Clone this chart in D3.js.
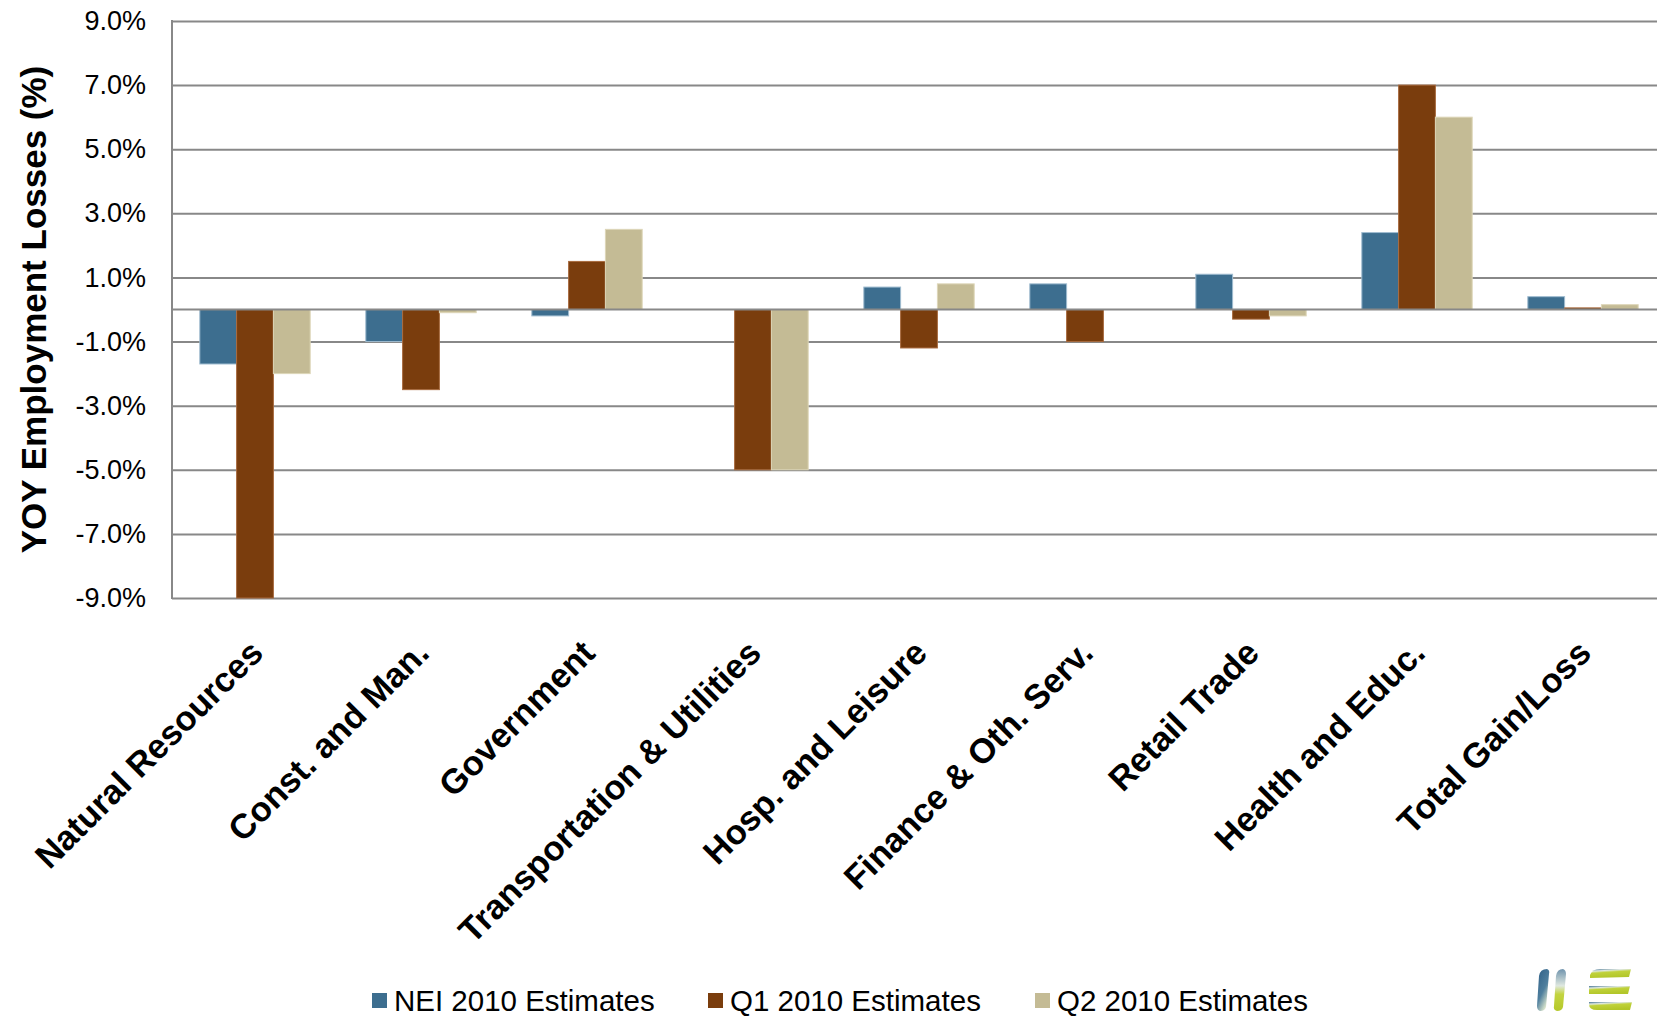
<!DOCTYPE html>
<html>
<head>
<meta charset="utf-8">
<script src="https://cdn.jsdelivr.net/npm/d3@7"></script>
<style>
  html, body { margin: 0; padding: 0; background: #fff; }
  svg { display: block; font-family: "Liberation Sans", Arial, sans-serif; }
</style>
</head>
<body>
<svg id="chart" width="1657" height="1016"></svg>
<script>
// Year-over-year employment change by sector, three estimate vintages
const categories = [
  "Natural Resources", "Const. and Man.", "Government", "Transportation & Utilities",
  "Hosp. and Leisure", "Finance & Oth. Serv.", "Retail Trade", "Health and Educ.", "Total Gain/Loss"
];
const seriesNames = ["NEI 2010 Estimates", "Q1 2010 Estimates", "Q2 2010 Estimates"];
const neiValues = [-1.7, -1.0, -0.2, 0.0, 0.7, 0.8, 1.1, 2.4, 0.4];
const q1Values  = [-9.0, -2.5, 1.5, -5.0, -1.2, -1.0, -0.3, 7.0, 0.05];
const q2Values  = [-2.0, -0.1, 2.5, -5.0, 0.8, 0.0, -0.2, 6.0, 0.15];
const yTicks = [9, 7, 5, 3, 1, -1, -3, -5, -7, -9];
const seriesColors = ["#3d6e8f", "#7a3d0d", "#c4bb95"];
const seriesEdges  = ["#9fbcd0", "#a86a3e", "#ddd6b8"];

const seriesValues = [neiValues, q1Values, q2Values];

const svg = d3.select("#chart");
const plot = { left: 172, right: 1666, top: 21, bottom: 598 };

const x0 = d3.scaleBand().domain(categories).range([plot.left, plot.right]).padding(0);
const groupWidth = x0.bandwidth() * 0.665;
const x1 = d3.scaleBand().domain(seriesNames).range([0, groupWidth]).padding(0);
const y = d3.scaleLinear().domain([-9, 9]).range([plot.bottom, plot.top]);

// Percent labels with an ASCII hyphen for negatives
const pct = d3.formatLocale({ decimal: ".", thousands: ",", grouping: [3], currency: ["", ""], minus: "-" })
  .format(".1f");

// Horizontal gridlines with percentage labels
const yAxis = d3.axisLeft(y)
  .tickValues(yTicks)
  .tickSize(-(plot.right - plot.left))
  .tickFormat(d => pct(d) + "%")
  .tickPadding(26);

const gy = svg.append("g")
  .attr("transform", `translate(${plot.left},0)`)
  .call(yAxis);
gy.select(".domain").remove();
gy.selectAll(".tick line").attr("stroke", "#888888").attr("stroke-width", 2);
gy.selectAll(".tick text")
  .attr("fill", "#000")
  .style("font-size", "27px")
  .style("font-family", "'Liberation Sans', Arial, sans-serif");

// Bars
const groups = svg.append("g")
  .selectAll("g")
  .data(categories)
  .join("g")
  .attr("transform", d => `translate(${x0(d) + (x0.bandwidth() - groupWidth) / 2},0)`);

groups.selectAll("rect")
  .data((d, i) => seriesNames.map((s, k) => ({ s, k, v: seriesValues[k][i] })))
  .join("rect")
  .attr("x", d => x1(d.s))
  .attr("width", x1.bandwidth())
  .attr("y", d => y(Math.max(0, d.v)))
  .attr("height", d => Math.abs(y(d.v) - y(0)))
  .attr("fill", d => seriesColors[d.k])
  .attr("stroke", d => d.v === 0 ? "none" : seriesEdges[d.k])
  .attr("stroke-width", 1);

// Zero baseline and vertical value axis
svg.append("line")
  .attr("x1", plot.left).attr("x2", plot.right)
  .attr("y1", y(0)).attr("y2", y(0))
  .attr("stroke", "#888888").attr("stroke-width", 2);
svg.append("line")
  .attr("x1", plot.left).attr("x2", plot.left)
  .attr("y1", plot.top - 1).attr("y2", plot.bottom + 1)
  .attr("stroke", "#888888").attr("stroke-width", 2);

// Rotated category labels
svg.append("g")
  .selectAll("text")
  .data(categories)
  .join("text")
  .attr("transform", d => `translate(${x0(d) + x0.bandwidth() / 2 + 10},655) rotate(-45)`)
  .attr("text-anchor", "end")
  .style("font-size", "34.5px")
  .style("font-weight", "bold")
  .style("letter-spacing", "0px")
  .attr("fill", "#000")
  .text(d => d);

// Value axis title
svg.append("text")
  .attr("transform", `translate(46,${y(0)}) rotate(-90)`)
  .attr("text-anchor", "middle")
  .style("font-size", "35px")
  .style("font-weight", "bold")
  .attr("fill", "#000")
  .text("YOY Employment Losses (%)");

// Legend
const legendX = [372, 708, 1035];
const legend = svg.append("g")
  .selectAll("g")
  .data(seriesNames)
  .join("g")
  .attr("transform", (d, i) => `translate(${legendX[i]},0)`);
legend.append("rect")
  .attr("x", 0).attr("y", 993)
  .attr("width", 15).attr("height", 15)
  .attr("fill", (d, i) => seriesColors[i]);
legend.append("text")
  .attr("x", 22).attr("y", 1011)
  .style("font-size", "29.5px")
  .attr("fill", "#000")
  .text(d => d);

// Corner logo mark
const defs = svg.append("defs");
const gradA = defs.append("linearGradient")
  .attr("id", "logoGradA")
  .attr("x1", "0").attr("y1", "0").attr("x2", "0.6").attr("y2", "1");
gradA.append("stop").attr("offset", "0%").attr("stop-color", "#2f5f86");
gradA.append("stop").attr("offset", "60%").attr("stop-color", "#4f7f9e");
gradA.append("stop").attr("offset", "100%").attr("stop-color", "#e4ecd0");
const gradB = defs.append("linearGradient")
  .attr("id", "logoGradB")
  .attr("x1", "0").attr("y1", "0").attr("x2", "0").attr("y2", "1");
gradB.append("stop").attr("offset", "0%").attr("stop-color", "#6f93ad");
gradB.append("stop").attr("offset", "40%").attr("stop-color", "#dfe8e0");
gradB.append("stop").attr("offset", "60%").attr("stop-color", "#c3d440");
gradB.append("stop").attr("offset", "100%").attr("stop-color", "#b5c82a");
const gradE = defs.append("linearGradient")
  .attr("id", "logoGradE")
  .attr("x1", "0").attr("y1", "0").attr("x2", "0.3").attr("y2", "1");
gradE.append("stop").attr("offset", "0%").attr("stop-color", "#3f6f92");
gradE.append("stop").attr("offset", "25%").attr("stop-color", "#dfe8e0");
gradE.append("stop").attr("offset", "45%").attr("stop-color", "#c0d23a");
gradE.append("stop").attr("offset", "100%").attr("stop-color", "#b2c62a");
const logo = svg.append("g");
logo.append("path").attr("fill", "url(#logoGradA)")
  .attr("d", "M1539,976 Q1540,969 1547,969 Q1550,970 1549,974 L1546,1007 Q1545,1011 1540,1011 Q1537,1010 1537,1006 Z");
logo.append("path").attr("fill", "url(#logoGradB)")
  .attr("d", "M1556,976 Q1557,969 1563,969 Q1566,970 1566,974 L1563,1007 Q1562,1011 1557,1011 Q1553,1010 1554,1006 Z");
logo.append("g").attr("fill", "url(#logoGradE)").call(g => {
  g.append("path").attr("d", "M1590,975 Q1592,969 1600,969 L1631,969 L1629,977 L1590,978 Z");
  g.append("path").attr("d", "M1589,986 L1630,986 L1628,994 L1589,994 Z");
  g.append("path").attr("d", "M1589,1002 L1632,1002 L1630,1010 L1597,1010 Q1589,1010 1589,1004 Z");
});
</script>
</body>
</html>
